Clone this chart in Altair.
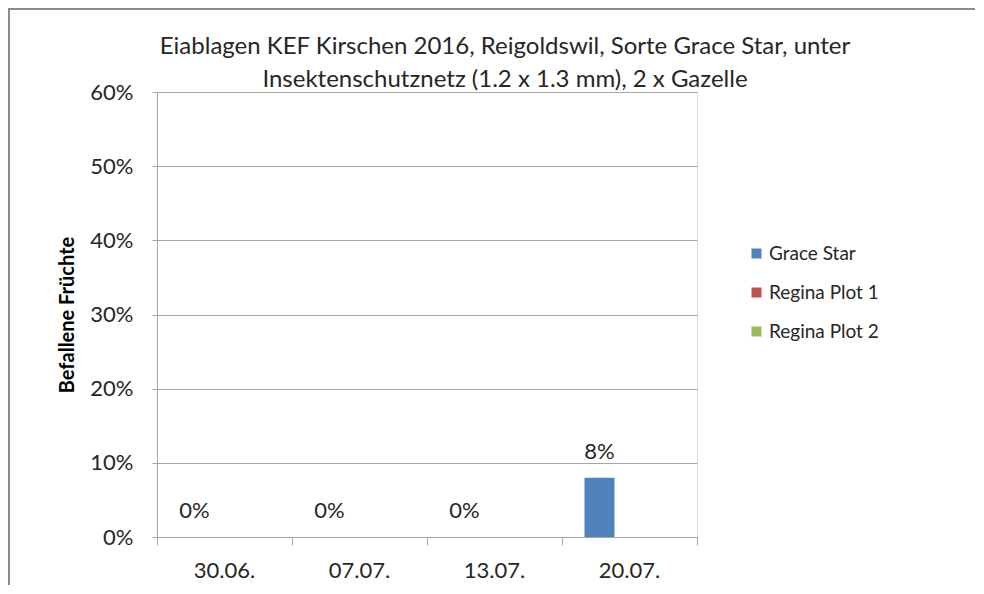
import altair as alt
import pandas as pd

dates = ["30.06.", "07.07.", "13.07.", "20.07."]
series = ["Grace Star", "Regina Plot 1", "Regina Plot 2"]
grace_star = [0.0, 0.0, 0.0, 0.08]
regina_plot1 = [None, None, None, None]
regina_plot2 = [None, None, None, None]
colors = ["#4F81BD", "#C0504D", "#9BBB59"]
y_ticks = [0, 0.1, 0.2, 0.3, 0.4, 0.5, 0.6]
title_lines = ["Eiablagen KEF Kirschen 2016, Reigoldswil, Sorte Grace Star, unter",
               "Insektenschutznetz (1.2 x 1.3 mm), 2 x Gazelle"]

rows = []
for s, vals in zip(series, [grace_star, regina_plot1, regina_plot2]):
    for d, v in zip(dates, vals):
        rows.append({"date": d, "series": s, "value": v})
df = pd.DataFrame(rows)
labels_df = df[df["series"] == "Grace Star"]
bounds_df = pd.DataFrame({"b": list(range(len(dates) + 1))})

FONT = "Lato"
TXT = "#262626"
GRAY = "#A6A6A6"

x_enc = alt.X("date:N", sort=dates,
              scale=alt.Scale(type="band", paddingInner=0, paddingOuter=0),
              axis=alt.Axis(title=None, ticks=False, domain=True, domainColor=GRAY,
                            labelFontSize=22, labelPadding=23, labelAngle=0,
                            labelColor=TXT, labelFont=FONT, orient="bottom"))
xo_enc = alt.XOffset("series:N", sort=series,
                     scale=alt.Scale(type="band", paddingInner=0, paddingOuter=0.75))
y_enc = alt.Y("value:Q", scale=alt.Scale(domain=[0, 0.6]),
              axis=alt.Axis(values=y_ticks, format=".0%", title="Befallene Früchte",
                            titleFontSize=20, titleFontWeight="bold", titleFont=FONT,
                            titleColor="#000000", titlePadding=12,
                            labelFontSize=22, labelFont=FONT, labelColor=TXT,
                            labelPadding=19, tickSize=5, tickColor=GRAY,
                            domainColor=GRAY, gridColor=GRAY))

frame = alt.Chart(alt.Data(values=[{}])).mark_rect(
    fill=None, stroke="#8C8C8C", strokeWidth=2
).encode(x=alt.value(-148), x2=alt.value(900), y=alt.value(-83), y2=alt.value(700))

bars = alt.Chart(df).mark_bar().encode(
    x=x_enc, xOffset=xo_enc, y=y_enc,
    color=alt.Color("series:N", sort=series,
                    scale=alt.Scale(domain=series, range=colors),
                    legend=alt.Legend(title=None, orient="none", legendX=590, legendY=152,
                                      symbolType="square", symbolSize=100,
                                      symbolStrokeWidth=0,
                                      labelFontSize=19, labelFont=FONT, labelColor=TXT,
                                      rowPadding=19, labelOffset=3))
)

texts = alt.Chart(labels_df).mark_text(
    fontSize=22, font=FONT, color=TXT, baseline="alphabetic", dy=-19
).encode(x=alt.X("date:N", sort=dates), xOffset=alt.XOffset("series:N", sort=series),
         y="value:Q", text=alt.Text("value:Q", format=".0%"))

ticks = alt.Chart(bounds_df).mark_rule(opacity=0).encode(
    x=alt.X("b:Q", scale=alt.Scale(domain=[0, len(dates)], nice=False),
            axis=alt.Axis(values=list(range(len(dates) + 1)), labels=False, title=None,
                          domain=False, grid=False, tickSize=8, tickColor=GRAY,
                          orient="bottom"))
)

chart = alt.layer(frame, alt.layer(bars, texts), ticks).resolve_scale(x="independent").properties(
    width=540, height=445,
    autosize=alt.AutoSizeParams(type="none"),
    padding={"left": 149, "top": 84, "right": 278, "bottom": 48},
    title=alt.TitleParams(text=title_lines, fontSize=24, font=FONT, color=TXT,
                          fontWeight="normal", lineHeight=33, anchor="middle",
                          frame="group", dx=78, offset=-84),
).configure_view(stroke=None).configure(background="white")

chart.save("out.html", embed_options={"renderer": "svg", "actions": False})
